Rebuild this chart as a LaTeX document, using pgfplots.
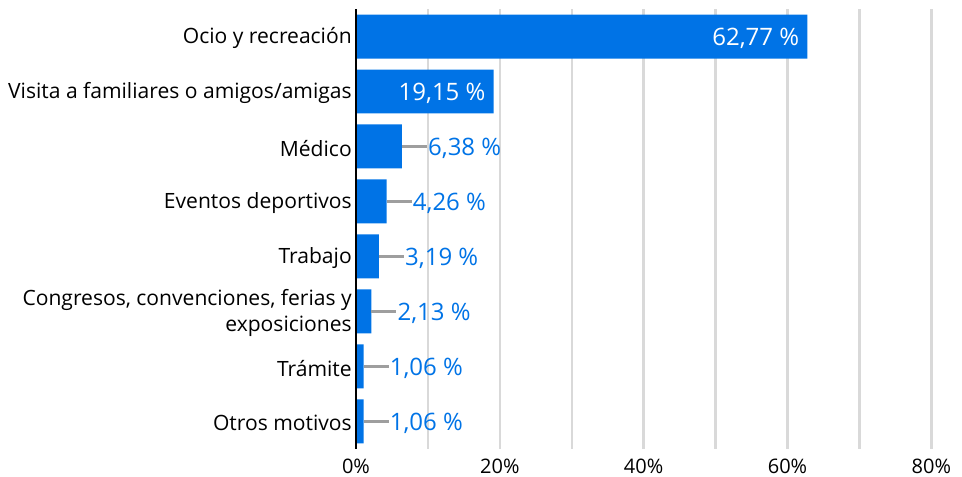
\documentclass[border=0pt]{standalone}
\usepackage{pgfplots}
\pgfplotsset{compat=1.18}
\usepackage{fontspec}
\setmainfont{Open Sans}
\definecolor{barblue}{HTML}{0073E6}
\definecolor{leadgray}{HTML}{9E9E9E}
\definecolor{gridgray}{HTML}{D9D9D9}
\begin{document}
\begin{tikzpicture}
\begin{axis}[name=ax, at={(0,0)}, anchor=south west,
  scale only axis, width=431.5pt, height=330pt,
  xmin=0, xmax=80, ymin=-0.5, ymax=7.5,
  xtick={0,10,...,80},
  xticklabels={0\%,,20\%,,40\%,,60\%,,80\%},
  ytick={0,...,7},
  yticklabels={Otros motivos, Trámite, {Congresos, convenciones, ferias y\\exposiciones}, Trabajo, Eventos deportivos, Médico, Visita a familiares o amigos/amigas, Ocio y recreación},
  xmajorgrids, major x grid style={gridgray, line width=1.8pt},
  axis line style={draw=none},
  major tick length=0pt, tick style={draw=none},
  xticklabel style={font=\fontsize{15}{18}\selectfont, inner sep=0pt, anchor=north},
  x tick label style={yshift=-7.5pt},
  yticklabel style={font=\fontsize{15.8}{19}\selectfont, align=right, inner sep=0pt, anchor=east, xshift=-3pt, yshift=-1.2pt},
  clip=false,
]
\addplot[xbar, bar width=0.8, fill=barblue, draw=none, forget plot] coordinates {
(1.06,0) (1.06,1) (2.13,2) (3.19,3) (4.26,4) (6.38,5) (19.15,6) (62.77,7)};
\addplot[only marks, mark=none, point meta=explicit symbolic, nodes near coords,
  every node near coord/.append style={anchor=east, text=white, inner sep=0pt, xshift=-6pt, yshift=-1.2pt, font=\fontsize{18}{20}\selectfont}]
  table[x=x, y=y, meta=lab] {
x y lab
62.77 7 {62,77 \%}
19.15 6 {19,15 \%}
};
\addplot[only marks, mark=none, point meta=explicit symbolic, nodes near coords,
  every node near coord/.append style={anchor=west, text=barblue, inner sep=0pt, xshift=19.5pt, yshift=-1.2pt, font=\fontsize{18}{20}\selectfont},
  error bars/.cd, x dir=plus, x explicit, error mark=none,
  error bar style={leadgray, line width=2pt}]
  table[x=x, y=y, x error=e, meta=lab] {
x y e lab
6.38 5 3.5 {6,38 \%}
4.26 4 3.5 {4,26 \%}
3.19 3 3.5 {3,19 \%}
2.13 2 3.5 {2,13 \%}
1.06 1 3.5 {1,06 \%}
1.06 0 3.5 {1,06 \%}
};
\draw[black, line width=2pt] (axis cs:0,-0.5) -- (axis cs:0,7.5);
\end{axis}
\pgfresetboundingbox
\path[use as bounding box] (-267pt,-21pt) rectangle (454.5pt,336.75pt);
\end{tikzpicture}
\end{document}
